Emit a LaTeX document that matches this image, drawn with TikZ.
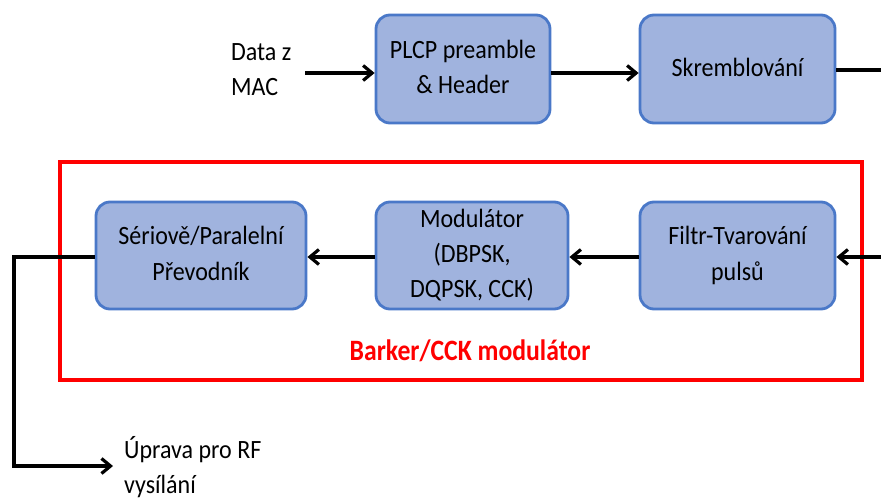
\documentclass[tikz,border=0pt]{standalone}
\usepackage{fontspec}
\usepackage{graphicx}
\setmainfont{Carlito}
\usetikzlibrary{arrows.meta}
\definecolor{boxfill}{HTML}{A0B3DE}
\definecolor{boxline}{HTML}{4A78C8}
\definecolor{redline}{HTML}{FF0000}
\newcommand\mytxt[2][c]{\scalebox{1}[1.1]{\begin{tabular}{@{}#1@{}}#2\end{tabular}}}
\begin{document}
\begin{tikzpicture}[x=1pt,y=-1pt,
  blk/.style={draw=boxline,fill=boxfill,line width=2.8pt,rounded corners=14pt,inner sep=0pt,align=center,font=\fontsize{24}{32}\selectfont},
  con/.style={line width=3.2pt,draw=black},
  tip/.style={-{Straight Barb[length=9pt,width=15pt,line width=3.2pt]}},
  arr/.style={con,tip},
  lbl/.style={font=\fontsize{24}{32}\selectfont,inner sep=0pt}]
\useasboundingbox (0,0) rectangle (881,500);
\node[blk,minimum width=174pt,minimum height=108pt] (plcp) at (463,69) {\mytxt{PLCP preamble\\\& Header}};
\node[blk,minimum width=195pt,minimum height=108pt] (skr) at (737.5,69) {\mytxt{Skremblování}};
\draw[redline,line width=4.5pt] (60,162) rectangle (862,380);
\node[blk,minimum width=210pt,minimum height=107pt] (ser) at (201,255.5) {\mytxt{Sériově/Paralelní\\Převodník}};
\node[blk,minimum width=192pt,minimum height=107pt] (mod) at (472,255.5) {\mytxt{Modulátor\\(DBPSK,\\DQPSK, CCK)}};
\node[blk,minimum width=195pt,minimum height=107pt] (fil) at (737.5,255.5) {\mytxt{Filtr-Tvarování\\pulsů}};
\node[inner sep=0pt,text=redline,font=\fontsize{25.7}{30}\selectfont\bfseries] (red) at (470,351) {\scalebox{1}[1.15]{Barker/CCK modulátor}};
\node[lbl,anchor=west] (data) at (231,71) {\mytxt[l]{Data z\\MAC}};
\node[lbl,anchor=west] (rf) at (124,469) {\mytxt[l]{Úprava pro RF\\vysílání}};
\coordinate (din) at (305,73);
\coordinate (skrout) at (881,70);
\coordinate (filin) at (881,257);
\coordinate (c1) at (14,257);
\coordinate (c2) at (14,466);
\coordinate (rfend) at (113,466);
\draw[arr] (din) -- (plcp.west |- din);
\draw[arr] (plcp.east |- din) -- (skr.west |- din);
\draw[con] (skr.east |- skrout) -- (skrout);
\draw[arr] (filin) -- (fil.east |- filin);
\draw[arr] (fil.west |- filin) -- (mod.east |- filin);
\draw[arr] (mod.west |- filin) -- (ser.east |- filin);
\draw[con,tip] (ser.west |- c1) -- (c1) -- (c2) -- (rfend);
\end{tikzpicture}
\end{document}
